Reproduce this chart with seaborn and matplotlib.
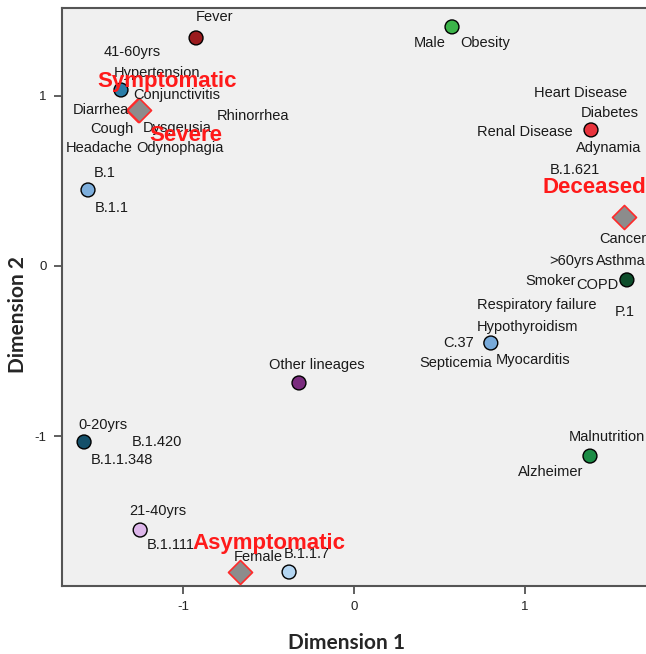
import matplotlib
matplotlib.use("Agg")
import matplotlib.pyplot as plt
import pandas as pd
import seaborn as sns

# ── Category points (joint plot of category quantifications) ──────────────────
point_group = ["Fever", "41-60yrs", "B.1", "Male", "Renal Disease", "COPD",
               "C.37", "Other lineages", "Malnutrition", "0-20yrs", "21-40yrs", "B.1.1.7"]
point_x = [-0.924, -1.363, -1.556, 0.573, 1.386, 1.596,
           0.800, -0.322, 1.380, -1.579, -1.251, -0.380]
point_y = [1.341, 1.035, 0.447, 1.406, 0.800, -0.082,
           -0.453, -0.688, -1.118, -1.035, -1.553, -1.800]
point_colors = ["#9B1B1E", "#2A7DA8", "#7DAEDC", "#3CB44A", "#E8333C", "#0D4D2B",
                "#78AADA", "#7A2C7E", "#1C8C45", "#14506A", "#DDB6EA", "#B4D6F2"]

# ── Outcome points (diamonds) ─────────────────────────────────────────────────
outcome_names = ["Symptomatic", "Severe", "Deceased", "Asymptomatic"]
outcome_x = [-1.263, -1.258, 1.579, -0.667]
outcome_y = [0.918, 0.915, 0.288, -1.800]
outcome_label_x = [-1.094, -0.982, 1.105, -0.497]
outcome_label_y = [1.082, 0.765, 0.459, -1.635]

# ── Category labels (text, x, y) ──────────────────────────────────────────────
cat_labels = ["Fever", "41-60yrs", "Hypertension", "Conjunctivitis", "Diarrhea",
              "Rhinorrhea", "Cough", "Dysgeusia", "Headache", "Odynophagia",
              "B.1", "B.1.1", "Male", "Obesity", "Heart Disease", "Diabetes",
              "Renal Disease", "Adynamia", "B.1.621", "Cancer", ">60yrs", "Asthma",
              "Smoker", "COPD", "Respiratory failure", "P.1", "Hypothyroidism",
              "C.37", "Septicemia", "Myocarditis", "Other lineages", "0-20yrs",
              "B.1.420", "B.1.1.348", "Malnutrition", "Alzheimer", "21-40yrs",
              "B.1.111", "Female", "B.1.1.7"]
cat_label_x = [-0.819, -1.298, -1.152, -1.035, -1.480,
               -0.591, -1.415, -1.035, -1.488, -1.018,
               -1.456, -1.415, 0.444, 0.766, 1.327, 1.497,
               1.000, 1.491, 1.292, 1.573, 1.275, 1.561,
               1.152, 1.421, 1.070, 1.585, 1.012,
               0.614, 0.596, 1.047, -0.216, -1.468,
               -1.152, -1.357, 1.480, 1.152, -1.146,
               -1.070, -0.561, -0.275]
cat_label_y = [1.465, 1.259, 1.135, 1.006, 0.918,
               0.882, 0.806, 0.812, 0.694, 0.694,
               0.547, 0.341, 1.312, 1.312, 1.018, 0.900,
               0.788, 0.694, 0.565, 0.159, 0.029, 0.029,
               -0.088, -0.112, -0.229, -0.271, -0.359,
               -0.453, -0.571, -0.553, -0.582, -0.935,
               -1.035, -1.141, -1.006, -1.212, -1.441,
               -1.641, -1.712, -1.694]

x_ticks = [-1, 0, 1]
y_ticks = [-1, 0, 1]


def main():
    sns.set_style("white")
    plt.rcParams["font.family"] = ["Liberation Sans", "DejaVu Sans"]
    plt.rcParams["axes.unicode_minus"] = False

    fig = plt.figure(figsize=(6.46, 6.54), dpi=100)
    ax = fig.add_axes([0.096, 0.104, 0.907, 0.884])
    ax.set_facecolor("#F0F0F0")

    points = pd.DataFrame({"group": point_group, "x": point_x, "y": point_y})
    sns.scatterplot(data=points, x="x", y="y", hue="group",
                    palette=dict(zip(point_group, point_colors)),
                    s=100, edgecolor="black", linewidth=1.0, legend=False,
                    ax=ax, zorder=3, clip_on=False)

    outcomes = pd.DataFrame({"name": outcome_names, "x": outcome_x, "y": outcome_y})
    sns.scatterplot(data=outcomes, x="x", y="y", marker="D", s=150,
                    color="#8C8C8C", edgecolor="#FF2A2A", linewidth=1.2,
                    legend=False, ax=ax, zorder=3, clip_on=False)

    for txt, lx, ly in zip(cat_labels, cat_label_x, cat_label_y):
        ax.text(lx, ly, txt, fontsize=10.5, color="#1A1A1A",
                ha="center", va="center", zorder=4)

    for txt, lx, ly in zip(outcome_names, outcome_label_x, outcome_label_y):
        ax.text(lx, ly, txt, fontsize=16, fontweight="bold", color="#FF1A1A",
                ha="left" if txt == "Deceased" else "center", va="center", zorder=5)

    ax.set_xlim(-1.708, 1.719)
    ax.set_ylim(-1.882, 1.518)
    ax.set_xticks(x_ticks)
    ax.set_yticks(y_ticks)
    ax.tick_params(direction="out", length=6, width=1.2, color="#444444",
                   labelsize=9.5, labelcolor="#222222", left=True, bottom=True, pad=5)

    for side in ["left", "bottom", "top"]:
        ax.spines[side].set_color("#555555")
        ax.spines[side].set_linewidth(1.5)
    ax.spines["right"].set_visible(False)

    ax.set_xlabel("Dimension 1", fontsize=15, fontweight="bold",
                  family=["Lato", "DejaVu Sans"], va="center")
    ax.set_ylabel("Dimension 2", fontsize=15, fontweight="bold",
                  family=["Lato", "DejaVu Sans"], va="center")
    ax.xaxis.set_label_coords(0.486, -0.098)
    ax.yaxis.set_label_coords(-0.075, 0.47)

    fig.savefig("out.png", dpi=100, facecolor="white")
    plt.close()


if __name__ == "__main__":
    main()
